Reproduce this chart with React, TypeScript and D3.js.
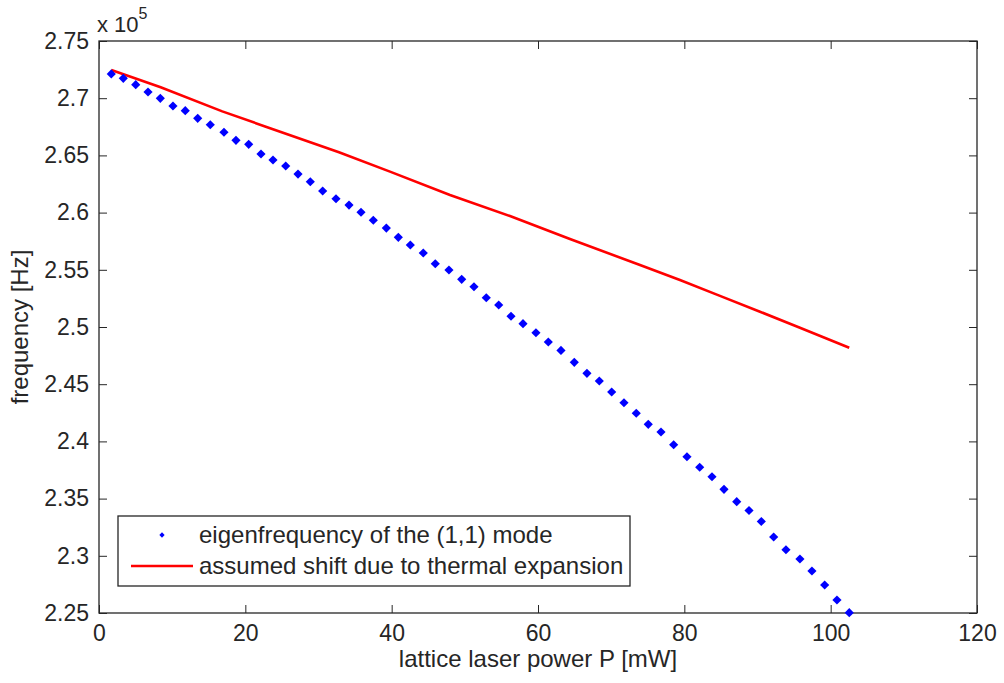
import React, { useEffect, useRef } from 'react';
import * as d3 from 'd3';

// eigenfrequency of the (1,1) mode, frequency in units of 1e5 Hz
const powerBlue = [1.68, 3.32, 5.02, 6.70, 8.38, 10.11, 11.79, 13.49, 15.21, 17.08,
	18.72, 20.46, 22.14, 23.78, 25.52, 27.20, 28.88, 30.57, 32.39, 34.17,
	35.81, 37.49, 39.27, 40.91, 42.55, 44.32, 45.96, 47.83, 49.57, 51.25,
	52.93, 54.63, 56.31, 57.95, 59.72, 61.41, 63.14, 64.96, 66.69, 68.38,
	70.07, 71.75, 73.43, 75.07, 76.81, 78.54, 80.36, 82.10, 83.78, 85.42,
	87.16, 88.84, 90.52, 92.21, 93.89, 95.80, 97.44, 99.18, 100.86, 102.54];
const freqBlue = [2.7212, 2.7174, 2.7118, 2.7054, 2.6999, 2.6932, 2.6891, 2.6824, 2.6768, 2.6702,
	2.6632, 2.6597, 2.6512, 2.6460, 2.6407, 2.6337, 2.6270, 2.6189, 2.6121, 2.6066,
	2.6003, 2.5933, 2.5865, 2.5784, 2.5717, 2.5647, 2.5553, 2.5498, 2.5417, 2.5352,
	2.5256, 2.5192, 2.5094, 2.5029, 2.4950, 2.4869, 2.4795, 2.4691, 2.4595, 2.4528,
	2.4432, 2.4338, 2.4246, 2.4149, 2.4082, 2.3971, 2.3866, 2.3774, 2.3691, 2.3581,
	2.3473, 2.3396, 2.3300, 2.3164, 2.3053, 2.2972, 2.2867, 2.2745, 2.2614, 2.2503];

// assumed shift due to thermal expansion
const powerRed = [1.68, 8.43, 16.85, 23.68, 32.80, 39.77, 47.97, 56.17, 64.37, 73.94,
	79.40, 84.87, 90.34, 95.80, 102.54];
const freqRed = [2.7247, 2.7095, 2.6885, 2.6731, 2.6527, 2.6358, 2.6154, 2.5970, 2.5769, 2.5542,
	2.5411, 2.5272, 2.5134, 2.4994, 2.4819];

const xTicks = [0, 20, 40, 60, 80, 100, 120];
const yTicks = [2.25, 2.3, 2.35, 2.4, 2.45, 2.5, 2.55, 2.6, 2.65, 2.7, 2.75];
const legendLabels = ['eigenfrequency of the (1,1) mode', 'assumed shift due to thermal expansion'];

const W = 1004, H = 683;
const left = 99, right = 977, top = 41, bottom = 613;
const font = '"Liberation Sans", Arial, sans-serif';
const ink = '#262626';

const App = () => {
	const ref = useRef(null);

	useEffect(() => {
		const svg = d3.select(ref.current);
		svg.selectAll('*').remove();

		const x = d3.scaleLinear().domain([0, 120]).range([left, right]);
		const y = d3.scaleLinear().domain([2.25, 2.75]).range([bottom, top]);

		svg.append('rect').attr('width', W).attr('height', H).attr('fill', 'white');

		// axes (MATLAB style: ticks inward, mirrored)
		const styleAxis = (g) => {
			g.select('.domain').remove();
			g.selectAll('line').attr('stroke', ink).attr('stroke-width', 1);
			g.selectAll('text').attr('fill', ink).style('font-family', font).style('font-size', '23px');
		};
		svg.append('g').attr('transform', `translate(0,${bottom})`)
			.call(d3.axisBottom(x).tickValues(xTicks).tickSize(-8).tickPadding(12).tickFormat(d3.format('d')))
			.call(styleAxis);
		svg.append('g').attr('transform', `translate(0,${top})`)
			.call(d3.axisTop(x).tickValues(xTicks).tickSize(-8).tickFormat(() => ''))
			.call(styleAxis);
		svg.append('g').attr('transform', `translate(${left},0)`)
			.call(d3.axisLeft(y).tickValues(yTicks).tickSize(-8).tickPadding(10).tickFormat(d => String(+d.toFixed(2))))
			.call(styleAxis);
		svg.append('g').attr('transform', `translate(${right},0)`)
			.call(d3.axisRight(y).tickValues(yTicks).tickSize(-8).tickFormat(() => ''))
			.call(styleAxis);

		svg.append('rect')
			.attr('x', left).attr('y', top)
			.attr('width', right - left).attr('height', bottom - top)
			.attr('fill', 'none').attr('stroke', ink).attr('stroke-width', 1.3);

		const plot = svg.append('g');

		const line = d3.line().x(d => x(d[0])).y(d => y(d[1]));
		plot.append('path')
			.datum(powerRed.map((p, i) => [p, freqRed[i]]))
			.attr('d', line)
			.attr('fill', 'none')
			.attr('stroke', '#ff0000')
			.attr('stroke-width', 2.6);

		const diamond = d3.symbol().type(d3.symbolSquare).size(42);
		plot.selectAll('.dot')
			.data(powerBlue.map((p, i) => [p, freqBlue[i]]))
			.enter()
			.append('path')
			.attr('class', 'dot')
			.attr('d', diamond)
			.attr('transform', d => `translate(${x(d[0])},${y(d[1])}) rotate(45)`)
			.attr('fill', '#0000ff');

		// exponent label
		const exp = svg.append('text').attr('x', 97).attr('y', 32).attr('fill', ink)
			.style('font-family', font).style('font-size', '22px');
		exp.append('tspan').text('x 10');
		exp.append('tspan').attr('dy', -13).style('font-size', '16px').text('5');

		// axis titles
		svg.append('text')
			.text('lattice laser power P [mW]')
			.attr('x', (left + right) / 2).attr('y', 667)
			.attr('text-anchor', 'middle').attr('fill', ink)
			.style('font-family', font).style('font-size', '24px');
		svg.append('text')
			.text('frequency [Hz]')
			.attr('transform', `translate(28,${(top + bottom) / 2}) rotate(-90)`)
			.attr('text-anchor', 'middle').attr('fill', ink)
			.style('font-family', font).style('font-size', '24px');

		// legend
		const lg = svg.append('g');
		lg.append('rect').attr('x', 118).attr('y', 516).attr('width', 512).attr('height', 70)
			.attr('fill', 'white').attr('stroke', ink).attr('stroke-width', 1.3);
		lg.append('path').attr('d', d3.symbol().type(d3.symbolSquare).size(14))
			.attr('transform', 'translate(162,535) rotate(45)').attr('fill', '#0000ff');
		lg.append('line').attr('x1', 131).attr('x2', 193).attr('y1', 566).attr('y2', 566)
			.attr('stroke', '#ff0000').attr('stroke-width', 2.6);
		lg.selectAll('.lt')
			.data(legendLabels)
			.enter()
			.append('text')
			.attr('class', 'lt')
			.attr('x', 199)
			.attr('y', (d, i) => 543 + i * 31)
			.attr('fill', ink)
			.style('font-family', font).style('font-size', '24px')
			.text(d => d);
	}, []);

	return (
		<div style={{ position: 'fixed', left: 0, top: 0 }}>
			<svg ref={ref} width={W} height={H}></svg>
		</div>
	);
};

export default App;
